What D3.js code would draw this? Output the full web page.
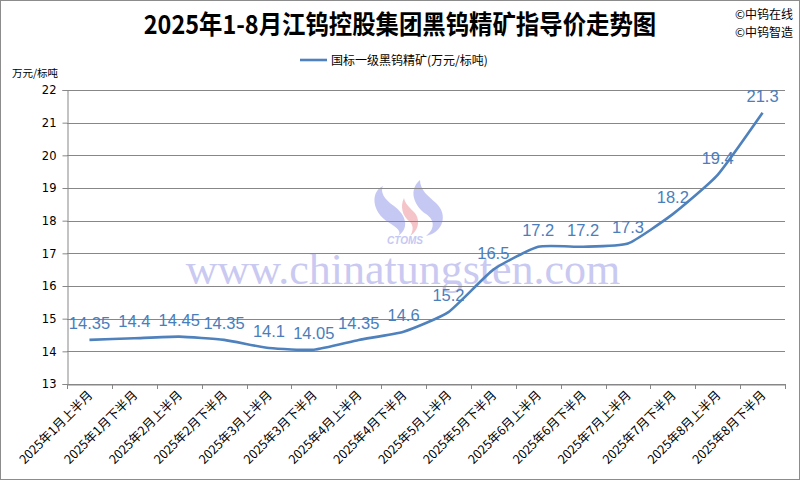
<!DOCTYPE html>
<html><head><meta charset="utf-8">
<script src="https://cdn.jsdelivr.net/npm/d3@7/dist/d3.min.js"></script>
<style>body{margin:0;background:#fff}svg{display:block}</style>
</head><body>
<svg id="c" width="800" height="480"></svg>
<script>
const categories = ["2025年1月上半月","2025年1月下半月","2025年2月上半月","2025年2月下半月","2025年3月上半月","2025年3月下半月","2025年4月上半月","2025年4月下半月","2025年5月上半月","2025年5月下半月","2025年6月上半月","2025年6月下半月","2025年7月上半月","2025年7月下半月","2025年8月上半月","2025年8月下半月"];
const values = [14.35,14.4,14.45,14.35,14.1,14.05,14.35,14.6,15.2,16.5,17.2,17.2,17.3,18.2,19.4,21.3];
const yTicks = [13,14,15,16,17,18,19,20,21,22];
const seriesName = "国标一级黑钨精矿(万元/标吨)";
const title = "2025年1-8月江钨控股集团黑钨精矿指导价走势图";

const svg = d3.select("#c");
const cjk = "'Noto Sans CJK SC','Noto Sans',sans-serif";
const blue = "#4f81bd";
const L=67,R=785,T=90,B=384;

svg.append("rect").attr("x",0.5).attr("y",0.5).attr("width",799).attr("height",479).attr("fill","#fff").attr("stroke","#8c8c8c");

const x = d3.scaleBand().domain(categories).range([L,R]);
const y = d3.scaleLinear().domain([13,22]).range([B,T]);

// watermark
const wm = svg.append("g");
wm.append("path").attr("d","M383,186 C370,192 372,212 388,222 C398,228 402,232 398,236 C410,228 406,215 394,206 C384,199 380,192 383,186 Z").attr("fill","#c5c8f2");
wm.append("path").attr("d","M420,180 C408,190 414,206 426,214 C436,221 434,230 426,236 C444,232 448,214 436,203 C428,196 420,190 420,180 Z").attr("fill","#c5c8f2");
wm.append("path").attr("d","M404,198 C400,206 402,216 410,222 C414,226 413,232 410,236 C420,230 420,218 414,212 C408,206 405,203 404,198 Z").attr("fill","#f4c4c8");
wm.append("text").attr("x",405).attr("y",244).attr("text-anchor","middle").attr("font-family","'Liberation Sans',sans-serif").attr("font-weight","bold").attr("font-style","italic").attr("font-size",10).attr("fill","#c5c8f2").text("CTOMS");
wm.append("text").attr("x",403).attr("y",284).attr("text-anchor","middle").attr("font-family","'Liberation Serif','DejaVu Serif',serif").attr("font-size",44).attr("fill","#c9c9f1").text("www.chinatungsten.com");

// gridlines
svg.append("g").selectAll("line").data(yTicks).join("line")
  .attr("x1",L).attr("x2",R).attr("y1",d=>Math.round(y(d))+0.5).attr("y2",d=>Math.round(y(d))+0.5)
  .attr("stroke","#878787").attr("stroke-width",1);

// y axis
const ya = svg.append("g").attr("transform",`translate(${L+0.5},0)`).call(d3.axisLeft(y).tickValues(yTicks).tickSize(5).tickPadding(6));
ya.select(".domain").attr("stroke","#878787");
ya.selectAll(".tick line").attr("stroke","#878787");
ya.selectAll("text").attr("font-family","'DejaVu Sans',sans-serif").attr("font-size",11.5).attr("fill","#000");

// x axis
const xa = svg.append("g").attr("transform",`translate(0,${B+0.5})`).call(d3.axisBottom(x).tickSize(0).tickFormat(""));
xa.select(".domain").attr("stroke","#878787");
xa.selectAll(".tick").remove();
svg.append("g").selectAll("line").data(d3.range(categories.length+1)).join("line")
  .attr("x1",i=>Math.round(L+i*x.step())+0.5).attr("x2",i=>Math.round(L+i*x.step())+0.5)
  .attr("y1",B).attr("y2",B+5).attr("stroke","#878787");
svg.append("g").selectAll("text").data(categories).join("text")
  .attr("transform",d=>`translate(${x(d)+x.bandwidth()/2+4},${B+12}) rotate(-45)`)
  .attr("text-anchor","end").attr("font-family",cjk).attr("font-size",12.5).attr("fill","#000").text(d=>d);

// line
const pts = values.map((v,i)=>[x(categories[i])+x.bandwidth()/2, y(v)]);
svg.append("path").attr("d",d3.line().curve(d3.curveCardinal.tension(0.5))(pts))
  .attr("fill","none").attr("stroke",blue).attr("stroke-width",2.6);

// labels
svg.append("g").selectAll("text").data(values).join("text")
  .attr("x",(d,i)=>pts[i][0]).attr("y",(d,i)=>pts[i][1]-11)
  .attr("text-anchor","middle").attr("font-family","'Liberation Sans',sans-serif").attr("font-size",16.5).attr("fill","#4a7ebb").text(d=>d);

// title
svg.append("text").attr("transform","translate(400,34) scale(0.9,1)").attr("text-anchor","middle").attr("font-family",cjk).attr("font-weight","bold").attr("font-size",26).attr("fill","#000").text(title);
svg.append("text").attr("x",735).attr("y",19).attr("font-family",cjk).attr("font-size",12).text("©中钨在线");
svg.append("text").attr("x",735).attr("y",37).attr("font-family",cjk).attr("font-size",12).text("©中钨智造");

// legend
svg.append("line").attr("x1",300).attr("x2",327).attr("y1",60).attr("y2",60).attr("stroke",blue).attr("stroke-width",2.6);
svg.append("text").attr("x",331).attr("y",64.5).attr("font-family",cjk).attr("font-size",12).text(seriesName);
svg.append("text").attr("x",12).attr("y",77).attr("font-family",cjk).attr("font-size",10.5).text("万元/标吨");
</script>
</body></html>
